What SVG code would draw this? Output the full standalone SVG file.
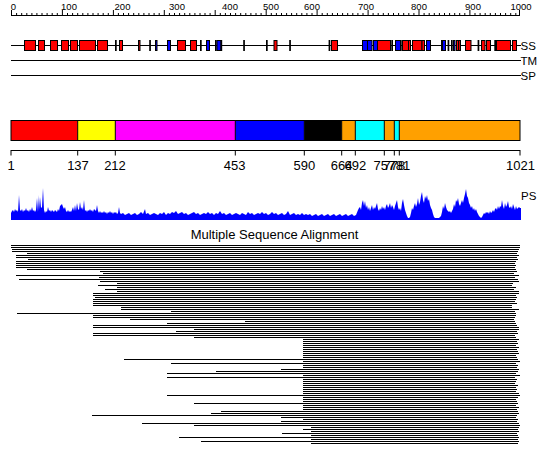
<svg xmlns="http://www.w3.org/2000/svg" width="550" height="465" viewBox="0 0 550 465">
<style>
text{font-family:"Liberation Sans",Arial,sans-serif;fill:#000}
.rl{font-size:9.5px;text-anchor:middle}
.tl{font-size:11.5px}
.dl{font-size:13px;text-anchor:middle}
.ln{stroke:#000;stroke-width:1;fill:none}
.h{fill:#ff0000;stroke:#000;stroke-width:1}
.e{fill:#0000ff;stroke:#000;stroke-width:1}
.c{fill:#000}
.seg{stroke:#000;stroke-width:1}
</style>
<rect width="550" height="465" fill="#fff"/>
<g id="ruler">
<path class="ln" d="M11 15.5H520"/>
<path class="ln" d="M11.5 10V16M16.6 13V16M21.7 13V16M26.8 13V16M31.9 13V16M36.9 13V16M42 13V16M47.1 13V16M52.2 13V16M57.3 13V16M62.4 10V16M67.5 13V16M72.6 13V16M77.7 13V16M82.8 13V16M87.9 13V16M93 13V16M98.1 13V16M103.2 13V16M108.3 13V16M113.4 10V16M118.4 13V16M123.5 13V16M128.6 13V16M133.7 13V16M138.8 13V16M143.9 13V16M149 13V16M154.1 13V16M159.2 13V16M164.3 10V16M169.4 13V16M174.5 13V16M179.6 13V16M184.7 13V16M189.8 13V16M194.9 13V16M200 13V16M205 13V16M210.1 13V16M215.2 10V16M220.3 13V16M225.4 13V16M230.5 13V16M235.6 13V16M240.7 13V16M245.8 13V16M250.9 13V16M256 13V16M261.1 13V16M266.2 10V16M271.3 13V16M276.4 13V16M281.5 13V16M286.6 13V16M291.6 13V16M296.7 13V16M301.8 13V16M306.9 13V16M312 13V16M317.1 10V16M322.2 13V16M327.3 13V16M332.4 13V16M337.5 13V16M342.6 13V16M347.7 13V16M352.8 13V16M357.9 13V16M363 13V16M368.1 10V16M373.1 13V16M378.2 13V16M383.3 13V16M388.4 13V16M393.5 13V16M398.6 13V16M403.7 13V16M408.8 13V16M413.9 13V16M419 10V16M424.1 13V16M429.2 13V16M434.3 13V16M439.4 13V16M444.5 13V16M449.6 13V16M454.7 13V16M459.7 13V16M464.8 13V16M469.9 10V16M475 13V16M480.1 13V16M485.2 13V16M490.3 13V16M495.4 13V16M500.5 13V16M505.6 13V16M510.7 13V16M515.8 13V16M519.5 10V16"/>
<text class="rl" x="13.5" y="9.5">0</text>
<text class="rl" x="69" y="9.5">100</text>
<text class="rl" x="122.5" y="9.5">200</text>
<text class="rl" x="177" y="9.5">300</text>
<text class="rl" x="230" y="9.5">400</text>
<text class="rl" x="271" y="9.5">500</text>
<text class="rl" x="312" y="9.5">600</text>
<text class="rl" x="366" y="9.5">700</text>
<text class="rl" x="419" y="9.5">800</text>
<text class="rl" x="473" y="9.5">900</text>
<text class="rl" x="521" y="9.5">1000</text>
</g>
<g id="ss-track">
<path class="ln" d="M11 45.5H521"/>
<rect class="h" x="24.5" y="40.5" width="11" height="10"/>
<rect class="h" x="38.5" y="40.5" width="6" height="10"/>
<rect class="h" x="50.5" y="40.5" width="7" height="10"/>
<rect class="h" x="61.5" y="40.5" width="7" height="10"/>
<rect class="h" x="70.5" y="40.5" width="7" height="10"/>
<rect class="h" x="79.5" y="40.5" width="16" height="10"/>
<rect class="h" x="97.5" y="40.5" width="10" height="10"/>
<rect class="h" x="119.5" y="40.5" width="3" height="10"/>
<rect class="h" x="138.5" y="40.5" width="1.5" height="10"/>
<rect class="h" x="177.5" y="40.5" width="8" height="10"/>
<rect class="h" x="190.5" y="40.5" width="6" height="10"/>
<rect class="h" x="274" y="40.5" width="3" height="10"/>
<rect class="h" x="331.5" y="40.5" width="6" height="10"/>
<rect class="h" x="377.5" y="40.5" width="13" height="10"/>
<rect class="h" x="402.5" y="40.5" width="6" height="10"/>
<rect class="h" x="408.5" y="40.5" width="2" height="10"/>
<rect class="h" x="412.5" y="40.5" width="9.5" height="10"/>
<rect class="h" x="422" y="40.5" width="2.5" height="10"/>
<rect class="h" x="456.5" y="40.5" width="4" height="10"/>
<rect class="h" x="465.5" y="40.5" width="5.5" height="10"/>
<rect class="h" x="481.5" y="40.5" width="3.5" height="10"/>
<rect class="h" x="486.5" y="40.5" width="4" height="10"/>
<rect class="h" x="496.5" y="40.5" width="14" height="10"/>
<rect class="h" x="512.5" y="40.5" width="4" height="10"/>
<rect class="e" x="155.5" y="40.5" width="1.5" height="10"/>
<rect class="e" x="167.5" y="40.5" width="3" height="10"/>
<rect class="e" x="206.5" y="40.5" width="3" height="10"/>
<rect class="e" x="217" y="40.5" width="4" height="10"/>
<rect class="e" x="362.5" y="40.5" width="5" height="10"/>
<rect class="e" x="367.5" y="40.5" width="4.5" height="10"/>
<rect class="e" x="373.5" y="40.5" width="4" height="10"/>
<rect class="e" x="395.5" y="40.5" width="5" height="10"/>
<rect class="e" x="426.5" y="40.5" width="4" height="10"/>
<rect class="e" x="442.5" y="40.5" width="3" height="10"/>
<rect class="e" x="453.5" y="40.5" width="1.5" height="10"/>
<path class="c" d="M115 40h1.7v11h-1.7zM149.2 40h1.7v11h-1.7zM200 40h1.7v11h-1.7zM215 40h1.7v11h-1.7zM220.5 40h1.7v11h-1.7zM243.2 40h1.7v11h-1.7zM266 40h1.7v11h-1.7zM289.2 40h1.7v11h-1.7zM328.6 40h1.7v11h-1.7zM391.3 40h1.7v11h-1.7zM401.3 40h1.7v11h-1.7zM441 40h1.7v11h-1.7zM447.6 40h1.7v11h-1.7zM451 40h1.7v11h-1.7zM458 40h1.2v11h-1.2zM477.6 40h1.7v11h-1.7zM494.3 40h1.7v11h-1.7z"/>
<text class="tl" x="520.5" y="49.5">SS</text>
</g>
<g id="tm-track">
<path class="ln" d="M11 60.5H521"/>
<text class="tl" x="520.5" y="64.5">TM</text>
</g>
<g id="sp-track">
<path class="ln" d="M11 75.5H521"/>
<text class="tl" x="520.5" y="79.5">SP</text>
</g>
<g id="domains">
<rect x="11" y="120.5" width="66.7" height="20" fill="#ff0000"/>
<rect x="77.7" y="120.5" width="37.6" height="20" fill="#ffff00"/>
<rect x="115.3" y="120.5" width="120" height="20" fill="#ff00ff"/>
<rect x="235.3" y="120.5" width="69" height="20" fill="#0000ff"/>
<rect x="304.3" y="120.5" width="37.4" height="20" fill="#000000"/>
<rect x="341.7" y="120.5" width="13.6" height="20" fill="#ffa000"/>
<rect x="355.3" y="120.5" width="29" height="20" fill="#00ffff"/>
<rect x="384.3" y="120.5" width="10" height="20" fill="#ffa000"/>
<rect x="394.3" y="120.5" width="5" height="20" fill="#00ffff"/>
<rect x="399.3" y="120.5" width="120.7" height="20" fill="#ffa000"/>
<path class="seg" d="M77.7 120.5V140.5M115.3 120.5V140.5M235.3 120.5V140.5M304.3 120.5V140.5M341.7 120.5V140.5M355.3 120.5V140.5M384.3 120.5V140.5M394.3 120.5V140.5M399.3 120.5V140.5"/>
<rect x="11" y="120.5" width="509" height="20" fill="none" stroke="#000" stroke-width="1"/>
</g>
<g id="domain-axis">
<path class="ln" d="M11 150.5H520M11 150V155.5M77.7 150V155.5M115.3 150V155.5M235.3 150V155.5M304.3 150V155.5M341.7 150V155.5M355.3 150V155.5M384.3 150V155.5M394.3 150V155.5M399.3 150V155.5M520 150V155.5"/>
<text class="dl" x="11" y="170">1</text>
<text class="dl" x="78" y="170">137</text>
<text class="dl" x="115" y="170">212</text>
<text class="dl" x="234.7" y="170">453</text>
<text class="dl" x="304.3" y="170">590</text>
<text class="dl" x="341.7" y="170">664</text>
<text class="dl" x="355.3" y="170">692</text>
<text class="dl" x="384.3" y="170">757</text>
<text class="dl" x="394.3" y="170">778</text>
<text class="dl" x="399.3" y="170">781</text>
<text class="dl" x="520.5" y="170">1021</text>
</g>
<g id="ps-track">
<path fill="#0000ff" d="M11 220L11 213 12 211 13 210 14 212 15 209 16 211 17 210 18 212 19 195 20 210 21 211 22 209 23 212 24 210 25 211 26 208 27 211 28 210 29 212 30 209 31 211 32 207 33 211 34 210 35 212 36 210 37 198 38 212 38.5 195 39 210 40 197 41 208 42 207 43 188 44 210 45 213 46 211 47 212 48 207 49 211 50 210 51 212 52 210 53 211 54 212 55 210 56 211 57 212 58 209 59 211 60 206 61 205 62 204 63 207 64 209 65 207 66 211 67 212 68 210 69 212 70 211 71 212 72 210 73 207 74 211 75 205 76 211 77 203 78 209 79 210 80 202 81 209 82 207 83 210 84 200 85 211 86 210 87 212 88 210 89 211 90 209 91 211 92 210 93 212 94 209 95 210 96 211 97 205 98 211 99 213 100 211 101 213 102 212 103 213 104 211 105 213 106 212 107 214 108 212 109 213 110 211 111 213 112 212 113 214 114 212 115 213 116 212 117 214 118 213 119 207 120 213 121 214 123 213 125 215 127 214 129 213 131 215 133 214 135 213 137 215 139 214 141 212 143 214 145 209 146 214 148 213 150 215 152 214 154 213 156 214 158 215 160 213 162 214 164 212 166 215 168 213 170 214 172 212 174 213 176 211 178 214 180 213 182 212 184 214 186 213 188 215 190 214 192 213 194 212 196 214 198 213 200 215 202 214 204 213 206 214 208 212 210 214 212 213 214 215 216 213 218 214 220 211 222 214 224 213 226 215 228 214 230 213 232 215 234 214 236 213 238 214 240 215 242 213 244 214 246 215 248 212 250 214 252 213 254 215 256 214 258 213 260 214 262 212 264 214 266 213 268 215 270 214 272 212 274 214 276 213 278 215 280 214 282 213 284 215 286 214 288 211 290 215 292 214 294 213 296 215 298 214 300 215 302 213 304 215 306 214 308 215 310 214 312 216 314 215 316 214 318 216 320 215 322 214 324 216 326 215 328 214 330 216 332 215 334 214 336 216 338 215 340 214 342 216 344 215 346 214 348 216 350 215 352 214 354 216 356 215 358 210 359 208 360 207 361 210 362 203 363 200 364 206 365 201 366 208 367 205 368 210 369 207 370 211 371 208 372 205 373 210 374 207 375 209 376 206 377 203 378 209 379 211 380 208 381 210 382 206 383 209 384 207 385 210 386 206 387 204 388 208 389 206 390 203 391 208 392 205 393 207 394 210 395 206 396 203 397 200 398 207 399 210 400 208 401 211 402 203 403 199 404 205 405 210 406 213 407 216 408 218 409 218 410 217 411 213 412 208 413 210 414 206 415 203 416 207 417 204 418 198 419 205 420 202 421 196 422 192 423 200 424 203 425 196 426 199 427 195 428 201 429 199 430 205 431 208 432 210 433 214 434 217 435 218 436 218 437 218 438 218 439 218 440 217 441 216 442 212 443 206 444 209 445 203 446 207 447 210 448 211 449 212 450 211 451 213 452 211 453 209 454 204 455 207 456 200 457 202 458 198 459 204 460 206 461 203 462 200 463 203 464 198 465 194 466 189 467 196 468 198 469 203 470 205 471 208 472 206 473 210 474 208 475 211 476 209 477 212 478 214 479 216 480 217 481 218 482 217 483 215 484 213 485 214 486 212 487 213 488 212 489 214 490 211 491 213 492 212 493 210 494 212 495 209 496 208 497 210 498 206 499 209 500 206 501 207 502 200 503 206 504 209 505 203 506 207 507 205 508 201 509 207 510 208 511 206 512 209 513 204 514 207 515 210 516 206 517 209 518 208 519 207 520 208 521 208 521 220Z"/>
<text class="tl" x="521" y="200">PS</text>
</g>
<g id="msa">
<text x="274.5" y="239" style="font-size:13px;text-anchor:middle">Multiple Sequence Alignment</text>
<path stroke="#000" stroke-width="1.2" fill="none" d="M11 245.5H520M11 247.5H520M12 249.5H519M12 251.5H518M27 253.5H517M16 255.5H519M16 257.5H517M28 259.5H518M16 261.5H516M16 263.5H515M16 265.5H516M16 267.5H515M27 269.5H516M100 271.5H517M103 273.5H514M16 275.5H519M99 277.5H515M19 279.5H518M100 281.5H519M117 283.5H513M98 285.5H512M117 287.5H516M105 289.5H514M117 291.5H519M93 293.5H519M93 295.5H516M95 297.5H517M93 299.5H516M93 301.5H515M93 303.5H517M93 305.5H512M121 307.5H512M121 309.5H519M171 311.5H515M17 313.5H516M93 315.5H516M93 317.5H515M130 319.5H514M245 321.5H515M167 323.5H516M93 325.5H517M93 327.5H519M194 329.5H519M176 331.5H517M93 333.5H518M93 335.5H515M194 337.5H516M303 339.5H519M303 341.5H517M303 343.5H518M303 345.5H516M303 347.5H519M303 349.5H517M303 351.5H518M303 353.5H519M303 355.5H516M303 357.5H517M124 359.5H518M303 361.5H520M171 363.5H516M303 365.5H518M303 367.5H517M281 369.5H519M216 371.5H518M167 373.5H516M303 375.5H520M167 377.5H515M303 379.5H517M303 381.5H516M303 383.5H515M303 385.5H518M303 387.5H516M303 389.5H517M303 391.5H516M303 393.5H519M167 395.5H520M303 397.5H518M303 399.5H516M303 401.5H517M194 403.5H518M303 405.5H516M303 407.5H519M303 409.5H517M221 411.5H518M211 413.5H519M92 415.5H517M281 417.5H516M303 419.5H518M281 421.5H517M142 423.5H519M194 425.5H520M311 427.5H519M303 429.5H518M311 431.5H519M282 433.5H517M311 435.5H518M179 437.5H519M311 439.5H518M201 441.5H519M311 443.5H518"/>
</g>
</svg>
